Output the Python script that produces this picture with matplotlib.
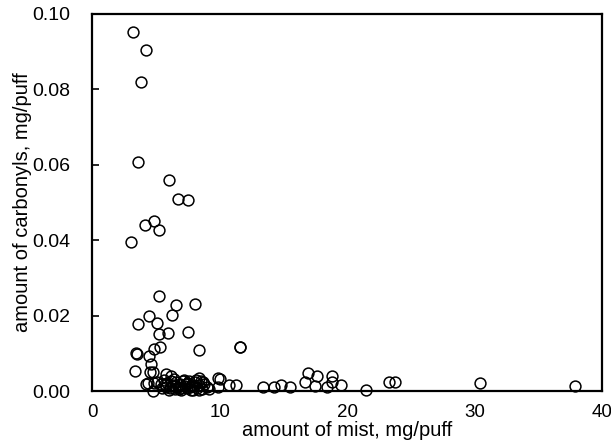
import matplotlib
matplotlib.use('Agg')
import matplotlib.pyplot as plt

plt.rcParams['font.family'] = ['Liberation Sans', 'DejaVu Sans']

# mist per puff (mg) vs. carbonyls per puff (mg)
# upper scattered points
mist_high = [3.2, 4.21, 3.85, 3.61, 6.05, 6.7, 7.5, 4.16, 4.87, 5.26, 3.08,
             5.2, 6.57, 8.07, 6.23, 4.47, 3.56, 5.08, 7.54, 5.21, 5.97]
carb_high = [0.0951, 0.0904, 0.0820, 0.0608, 0.0559, 0.0508, 0.0506, 0.0440,
             0.0450, 0.0426, 0.0395, 0.0251, 0.0227, 0.0232, 0.0203, 0.0198,
             0.0178, 0.0180, 0.0156, 0.0152, 0.0154]

# middle band
mist_mid = [5.34, 4.87, 11.56, 11.62, 8.41, 3.43, 3.48, 4.47, 4.6, 4.53,
            3.35, 4.79, 5.79, 6.18, 4.21, 4.87, 8.41, 9.86, 9.99]
carb_mid = [0.0118, 0.0112, 0.0118, 0.0116, 0.0108, 0.0101, 0.0099, 0.0092,
            0.0072, 0.0050, 0.0054, 0.0050, 0.0046, 0.0041, 0.0019, 0.0021,
            0.0035, 0.0035, 0.0032]

# dense low cluster
mist_low = [4.35, 4.74, 5.1, 5.4, 5.6, 5.8, 5.9, 6.1, 6.2, 6.35, 6.5, 6.6,
            6.75, 6.9, 7.0, 7.1, 7.25, 7.4, 7.5, 7.65, 7.8, 7.9, 8.05, 8.2,
            8.35, 8.5, 8.6, 8.8, 9.0, 9.2, 5.5, 6.0, 6.4, 6.8, 7.2, 7.6, 8.0,
            8.4, 8.7, 5.7, 6.3, 6.95, 7.35, 7.75, 8.15, 9.86, 10.77, 11.3]
carb_low = [0.0021, 0.0001, 0.0025, 0.0018, 0.0030, 0.0012, 0.0022, 0.0008,
            0.0028, 0.0015, 0.0005, 0.0024, 0.0011, 0.0019, 0.0003, 0.0026,
            0.0014, 0.0007, 0.0021, 0.0010, 0.0017, 0.0004, 0.0023, 0.0009,
            0.0016, 0.0028, 0.0006, 0.0018, 0.0011, 0.0005, 0.0008, 0.0004,
            0.0031, 0.0006, 0.0030, 0.0027, 0.0013, 0.0002, 0.0025, 0.0020,
            0.0013, 0.0008, 0.0019, 0.0003, 0.0029, 0.0012, 0.0015, 0.0015]

# long tail at larger mist amounts
mist_tail = [13.4, 14.3, 14.84, 15.5, 16.94, 17.68, 16.7, 18.83, 18.78,
             17.47, 18.39, 19.5, 21.5, 23.3, 23.76, 30.4, 37.9]
carb_tail = [0.0010, 0.0010, 0.0015, 0.0010, 0.0048, 0.0039, 0.0023, 0.0039,
             0.0023, 0.0013, 0.0010, 0.0015, 0.0002, 0.0023, 0.0023, 0.0022,
             0.0013]

mist = mist_high + mist_mid + mist_low + mist_tail
carb = carb_high + carb_mid + carb_low + carb_tail

fig = plt.figure(figsize=(6.11, 4.48), dpi=100)
ax = fig.add_axes([0.151, 0.127, 0.834, 0.842])

ax.plot(mist, carb, 'o', mfc='none', mec='black', ms=7.8, mew=1.1,
        linestyle='none', clip_on=False)

ax.set_xlim(0, 40)
ax.set_ylim(0, 0.10)
ax.set_xticks([0, 10, 20, 30, 40])
ax.set_yticks([0.00, 0.02, 0.04, 0.06, 0.08, 0.10])
ax.set_yticklabels(['0.00', '0.02', '0.04', '0.06', '0.08', '0.10'])

ax.tick_params(axis='y', direction='in', length=5, width=1.2, pad=16,
               labelsize=14)
ax.tick_params(axis='x', length=0, pad=9, labelsize=13.5)
for s in ax.spines.values():
    s.set_linewidth(1.6)

ax.set_xlabel('amount of mist, mg/puff', fontsize=14.5, labelpad=0)
ax.set_ylabel('amount of carbonyls, mg/puff', fontsize=14.5, labelpad=0)

fig.savefig('out.png', dpi=100)
